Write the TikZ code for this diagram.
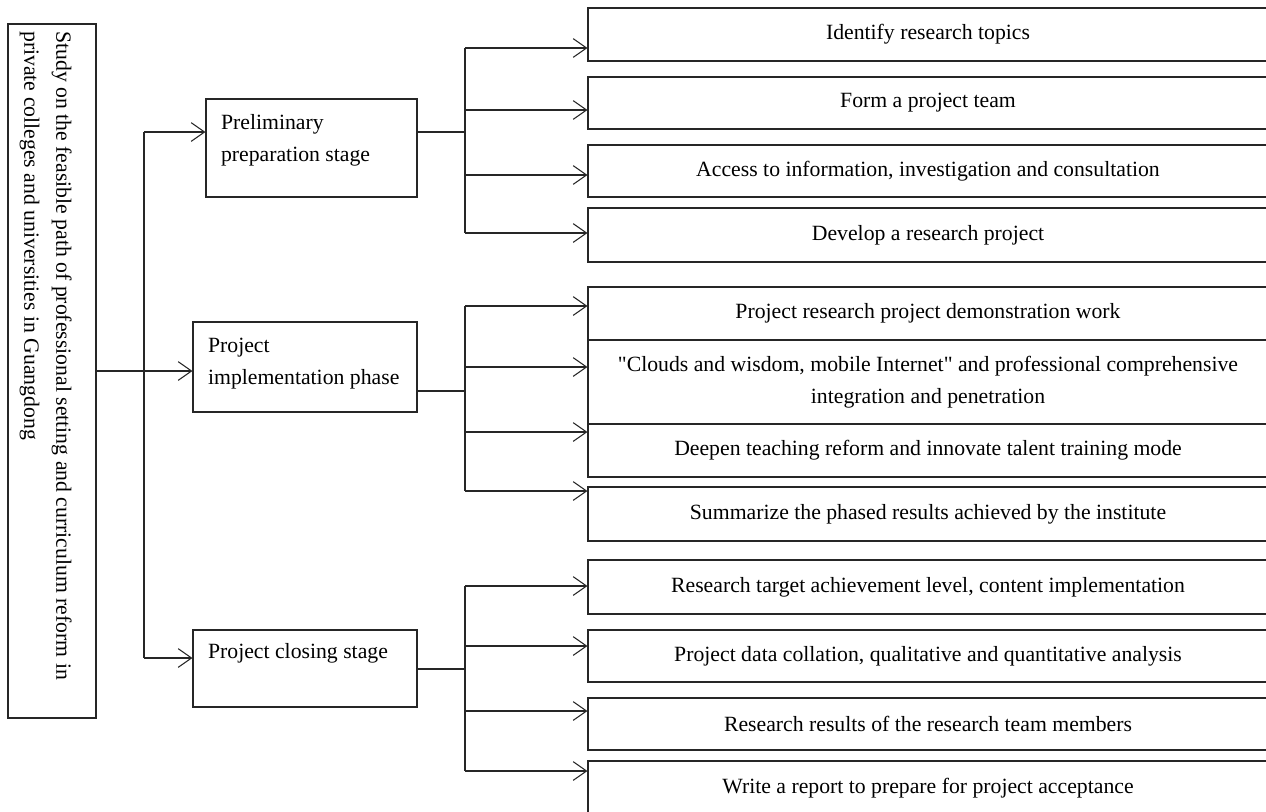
\documentclass[tikz,border=0pt]{standalone}
\usepackage{fontspec}
\setmainfont{Liberation Serif}[Ligatures=TeXOff]
\usetikzlibrary{arrows.meta}
\begin{document}
\begin{tikzpicture}[x=0.75pt,y=-0.75pt,
  ln/.style={draw=black!85, line width=0.8pt},
  arr/.style={ln, -{Straight Barb[length=10pt,width=14pt]}},
  txt/.style={font=\fontsize{16.3}{24}\selectfont},
  box/.style={draw=black!85, line width=0.8pt, inner sep=0},
  stagelbl/.style={txt, align=left, anchor=north west, inner sep=0, xshift=11.5pt},
  leaf/.style={box, txt, align=center, minimum width=510pt}]
\useasboundingbox (0,0) rectangle (1266,811);
\clip (0,0) rectangle (1266,811);
% root
\node[box, minimum width=66pt, minimum height=520.5pt] (root) at (52,371) {};
\node[txt, rotate=-90, anchor=north west, align=left, inner sep=0] (roottext) at (72,31)
  {Study on the feasible path of professional setting and curriculum reform in\\private colleges and universities in Guangdong};
% stages
\node[box, minimum width=158.25pt, minimum height=73.5pt,
  label={[stagelbl, yshift=-12pt]north west:Preliminary\\preparation stage}] (prelim) at (311.5,148) {};
\node[box, minimum width=168pt, minimum height=67.5pt,
  label={[stagelbl, yshift=-12pt]north west:Project\\implementation phase}] (impl) at (305,367) {};
\node[box, minimum width=168pt, minimum height=57.75pt,
  label={[stagelbl, yshift=-10pt]north west:Project closing stage}] (closing) at (305,668.5) {};
% leaves group 1
\node[leaf, minimum height=39.75pt] (g11) at (928,34.5) {Identify research topics};
\node[leaf, minimum height=39pt] (g12) at (928,103) {Form a project team};
\node[leaf, minimum height=39pt] (g13) at (928,171) {Access to information, investigation and consultation};
\node[leaf, minimum height=40.5pt] (g14) at (928,235) {Develop a research project};
% leaves group 2
\node[leaf, minimum height=39.75pt] (g21) at (928,313.5) {Project research project demonstration work};
\node[leaf, minimum height=63pt] (g22) at (928,382) {"Clouds and wisdom, mobile Internet" and professional comprehensive\\integration and penetration};
\node[leaf, minimum height=39.75pt] (g23) at (928,450.5) {Deepen teaching reform and innovate talent training mode};
\node[leaf, minimum height=40.5pt] (g24) at (928,514) {Summarize the phased results achieved by the institute};
% leaves group 3
\node[leaf, minimum height=40.5pt] (g31) at (928,587) {Research target achievement level, content implementation};
\node[leaf, minimum height=39pt] (g32) at (928,656) {Project data collation, qualitative and quantitative analysis};
\node[leaf, minimum height=39pt] (g33) at (928,724) {Research results of the research team members};
\node[leaf, minimum height=40.5pt] (g34) at (928,788) {Write a report to prepare for project acceptance};
% main connectors
\coordinate (m0) at (144,132);
\coordinate (m1) at (144,658);
\draw[ln] (m0) -- (m1);
\draw[arr] (m0) -- (prelim.west |- m0);
\draw[arr] (m1) -- (closing.west |- m1);
\draw[arr] (root.east) -- (impl.west |- root.east);
% group 1
\coordinate (ah) at (465,132);
\coordinate (a0) at (465,48);
\coordinate (a1) at (465,110);
\coordinate (a2) at (465,175);
\coordinate (a3) at (465,233);
\draw[ln] (prelim.east |- ah) -- (ah);
\draw[ln] (a0) -- (a3);
\draw[arr] (a0) -- (g11.west |- a0);
\draw[arr] (a1) -- (g12.west |- a1);
\draw[arr] (a2) -- (g13.west |- a2);
\draw[arr] (a3) -- (g14.west |- a3);
% group 2
\coordinate (bh) at (465,391);
\coordinate (b0) at (465,306);
\coordinate (b1) at (465,367);
\coordinate (b2) at (465,432);
\coordinate (b3) at (465,491);
\draw[ln] (impl.east |- bh) -- (bh);
\draw[ln] (b0) -- (b3);
\draw[arr] (b0) -- (g21.west |- b0);
\draw[arr] (b1) -- (g22.west |- b1);
\draw[arr] (b2) -- (g23.west |- b2);
\draw[arr] (b3) -- (g24.west |- b3);
% group 3
\coordinate (ch) at (465,669);
\coordinate (c0) at (465,586);
\coordinate (c1) at (465,646);
\coordinate (c2) at (465,711);
\coordinate (c3) at (465,771);
\draw[ln] (closing.east |- ch) -- (ch);
\draw[ln] (c0) -- (c3);
\draw[arr] (c0) -- (g31.west |- c0);
\draw[arr] (c1) -- (g32.west |- c1);
\draw[arr] (c2) -- (g33.west |- c2);
\draw[arr] (c3) -- (g34.west |- c3);
\end{tikzpicture}
\end{document}
